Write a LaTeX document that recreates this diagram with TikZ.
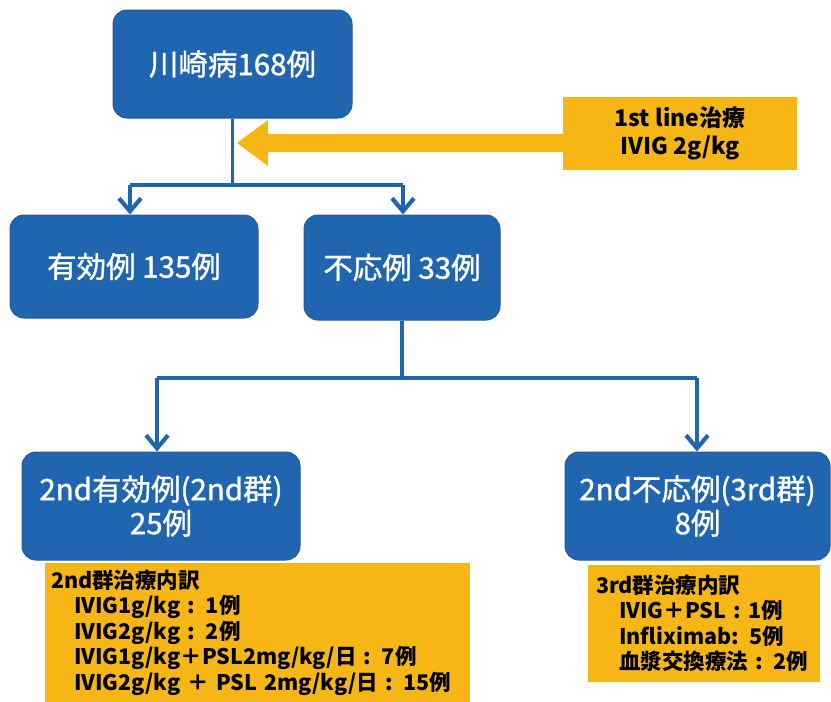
\documentclass[tikz,border=0pt]{standalone}
\usepackage{fontspec}
\setmainfont{Noto Sans CJK JP}
\newfontfamily\bluefont{Noto Sans CJK JP}[FakeBold=1.2]
\usetikzlibrary{arrows.meta}
\definecolor{bluebox}{RGB}{31,101,176}
\definecolor{blueedge}{RGB}{40,88,150}
\definecolor{yellowbox}{RGB}{245,182,22}
\tikzset{
  bbox/.style={draw=blueedge, line width=1pt, fill=bluebox, rounded corners=14pt, text=white, font=\bluefont\fontsize{29.5}{34}\selectfont, align=center, inner sep=0pt},
  ybox/.style={fill=yellowbox, inner sep=0pt, font=\bfseries\fontsize{21.5}{25.5}\selectfont, text=black},
  conn/.style={draw=bluebox, line width=3.8pt},
  arr/.style={conn, -{Straight Barb[length=13pt,width=22pt,line width=4.2pt]}}
}
\begin{document}
\begin{tikzpicture}[x=1pt,y=-1pt]
\useasboundingbox (0,0) rectangle (831,702);
\node[bbox, minimum width=239pt, minimum height=108pt] (top) at (232.5,64) {川崎病168例};
\node[ybox, minimum width=234pt, minimum height=73pt, align=center, font=\bfseries\fontsize{23}{28}\selectfont] (first) at (680,133.5) {1st line治療\\IVIG 2g/kg};
\node[bbox, minimum width=248pt, minimum height=103pt] (yuko) at (134,266.5) {有効例 135例};
\node[bbox, minimum width=196pt, minimum height=105pt] (funo) at (402,267.5) {不応例 33例};
\node[bbox, minimum width=278pt, minimum height=108pt] (second) at (161,506) {2nd有効例(2nd群)\\25例};
\node[bbox, minimum width=265pt, minimum height=108pt] (third) at (697.5,506) {2nd不応例(3rd群)\\8例};
\node[ybox, minimum width=425pt, minimum height=139pt, text width=413pt, align=left] (bl) at (257.5,632.5)
  {2nd群治療内訳\\
   \hspace*{23pt}IVIG1g/kg : 1例\\
   \hspace*{23pt}IVIG2g/kg : 2例\\
   \hspace*{23pt}IVIG1g/kg＋PSL2mg/kg/日 : 7例\\
   \hspace*{23pt}IVIG2g/kg ＋ PSL 2mg/kg/日 : 15例};
\node[ybox, minimum width=232pt, minimum height=117pt, text width=216pt, align=left] (br) at (704,623.5)
  {3rd群治療内訳\\
   \hspace*{23pt}IVIG＋PSL : 1例\\
   \hspace*{23pt}Infliximab: 5例\\
   \hspace*{23pt}血漿交換療法 : 2例};
% first-line arrow
\fill[yellowbox] (first.west |- 0,134) -- (268,134) -- (268,120) -- (237,143) -- (268,166) -- (268,152) -- (first.west |- 0,152) -- cycle;
% connectors top
\coordinate (j1) at (232.5,185);
\coordinate (j1l) at (130,185);
\coordinate (j1r) at (403,185);
\draw[conn] (top.south) -- (j1);
\draw[conn] (j1l) -- (j1r);
\draw[arr] (j1l) -- (j1l |- yuko.north);
\draw[arr] (j1r) -- (j1r |- funo.north);
% connectors second level
\coordinate (j2) at (402,378);
\coordinate (j2l) at (157,378);
\coordinate (j2r) at (697,378);
\draw[conn] (funo.south) -- (j2);
\draw[conn] (j2l) -- (j2r);
\draw[arr] (j2l) -- (j2l |- second.north);
\draw[arr] (j2r) -- (j2r |- third.north);
\end{tikzpicture}
\end{document}
